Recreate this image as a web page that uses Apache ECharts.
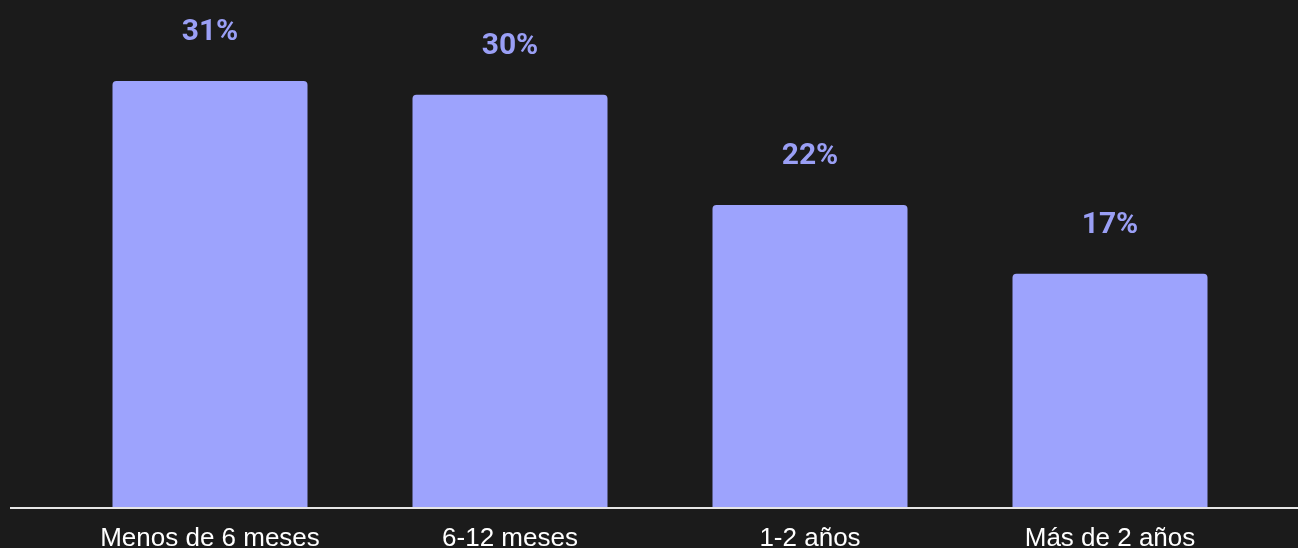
<!DOCTYPE html>
<html>
<head>
<meta charset="utf-8">
<script src="https://cdn.jsdelivr.net/npm/echarts@6/dist/echarts.min.js"></script>
<style>
html,body{margin:0;padding:0;background:#1b1b1b;}
#chart{width:1298px;height:548px;}
</style>
</head>
<body>
<div id="chart"></div>
<script>
const categories = ['Menos de 6 meses', '6-12 meses', '1-2 años', 'Más de 2 años'];
const values = [31, 30, 22, 17];

const chart = echarts.init(document.getElementById('chart'), null, {renderer: 'canvas'});
chart.setOption({
  backgroundColor: '#1b1b1b',
  animation: false,
  grid: {left: 60, right: 38, top: 12, bottom: 40, outerBoundsMode: 'none', containLabel: false},
  xAxis: {
    type: 'category',
    data: categories,
    axisLine: {show: false},
    axisTick: {show: false},
    axisLabel: {
      color: '#ffffff',
      fontFamily: 'Liberation Sans, Arial, sans-serif',
      fontSize: 26,
      margin: 18
    }
  },
  yAxis: {
    type: 'value',
    min: 0,
    max: 36,
    show: false,
    splitLine: {show: false}
  },
  graphic: [{
    type: 'line',
    shape: {x1: 10, y1: 508, x2: 1298, y2: 508},
    style: {stroke: '#e6e6e6', lineWidth: 2},
    z: 10
  }],
  series: [{
    type: 'bar',
    data: values,
    barCategoryGap: '35%',
    itemStyle: {color: '#9da3fd', borderRadius: [4, 4, 0, 0]},
    label: {
      show: true,
      position: 'top',
      distance: 33,
      formatter: '{c}%',
      color: '#9a9ff5',
      fontFamily: 'Roboto, sans-serif',
      fontWeight: 'bold',
      fontSize: 30
    }
  }]
});
</script>
</body>
</html>
